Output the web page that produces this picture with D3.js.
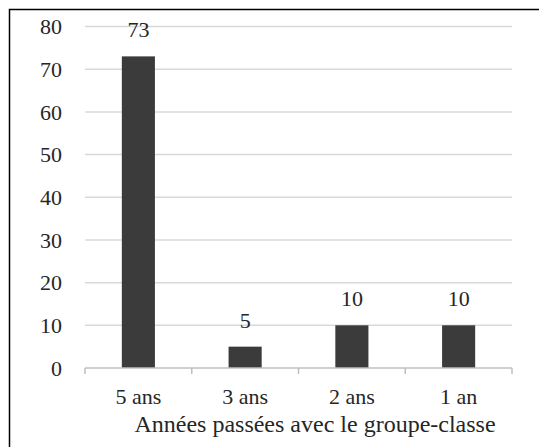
<!DOCTYPE html>
<html>
<head>
<meta charset="utf-8">
<script src="https://cdn.jsdelivr.net/npm/d3@7"></script>
<style>
  body { margin: 0; background: #fff; }
  svg { display: block; }
</style>
</head>
<body>
<div id="chart"></div>
<script>
const categories = ['5 ans', '3 ans', '2 ans', '1 an'];
const values = [73, 5, 10, 10];
const yTicks = [0, 10, 20, 30, 40, 50, 60, 70, 80];
const xTitle = 'Années passées avec le groupe-classe';

const width = 539;
const height = 447;
const margin = { top: 26.5, right: 27, bottom: 79, left: 85 };
const fontSize = 22;
const textColor = '#262626';
const serif = "'Liberation Serif', 'DejaVu Serif', 'Times New Roman', Times, serif";

const svg = d3.select('#chart')
    .append('svg')
    .attr('width', width)
    .attr('height', height);

// Chart frame (only left and top edges are visible)
svg.append('path')
    .attr('d', `M9.5,${height} V9.5 H${width}`)
    .attr('fill', 'none')
    .attr('stroke', '#000')
    .attr('stroke-width', 1.5);

const xScale = d3.scaleBand()
    .domain(categories)
    .range([margin.left, width - margin.right])
    .paddingInner(0.69)
    .paddingOuter(0.345);

const xTickScale = d3.scaleBand()
    .domain(categories)
    .range([margin.left, width - margin.right]);

const yScale = d3.scaleLinear()
    .domain([0, 80])
    .range([height - margin.bottom, margin.top]);

// Gridlines
svg.append('g')
    .selectAll('line')
    .data(yTicks.filter(d => d > 0))
    .enter()
    .append('line')
    .attr('x1', margin.left)
    .attr('x2', width - margin.right)
    .attr('y1', d => yScale(d))
    .attr('y2', d => yScale(d))
    .attr('stroke', '#d9d9d9')
    .attr('stroke-width', 1.5);

// Bars
svg.selectAll('rect.bar')
    .data(values)
    .enter()
    .append('rect')
    .attr('class', 'bar')
    .attr('x', (d, i) => xScale(categories[i]))
    .attr('y', d => yScale(d))
    .attr('width', xScale.bandwidth())
    .attr('height', d => yScale(0) - yScale(d))
    .attr('fill', '#3b3b3b');

// X axis line with ticks at band boundaries
const y0 = yScale(0);
const boundaries = categories.map(c => xTickScale(c)).concat([width - margin.right]);
svg.append('line')
    .attr('x1', margin.left)
    .attr('x2', width - margin.right)
    .attr('y1', y0)
    .attr('y2', y0)
    .attr('stroke', '#bfbfbf')
    .attr('stroke-width', 1.5);
svg.append('g')
    .selectAll('line')
    .data(boundaries)
    .enter()
    .append('line')
    .attr('x1', d => d)
    .attr('x2', d => d)
    .attr('y1', y0)
    .attr('y2', y0 + 6)
    .attr('stroke', '#bfbfbf')
    .attr('stroke-width', 1.5);

function label(sel, size) {
    return sel.attr('font-family', serif)
        .attr('font-size', size || fontSize)
        .attr('fill', textColor);
}

// Y tick labels
svg.append('g')
    .selectAll('text')
    .data(yTicks)
    .enter()
    .append('text')
    .attr('x', 62)
    .attr('y', d => yScale(d))
    .attr('dy', '0.35em')
    .attr('text-anchor', 'end')
    .call(label)
    .text(d => d);

// Value labels
svg.append('g')
    .selectAll('text')
    .data(values)
    .enter()
    .append('text')
    .attr('x', (d, i) => xScale(categories[i]) + xScale.bandwidth() / 2)
    .attr('y', d => yScale(d) - 19)
    .attr('text-anchor', 'middle')
    .call(label)
    .text(d => d);

// Category labels
svg.append('g')
    .selectAll('text')
    .data(categories)
    .enter()
    .append('text')
    .attr('x', d => xScale(d) + xScale.bandwidth() / 2)
    .attr('y', 404)
    .attr('text-anchor', 'middle')
    .call(label)
    .text(d => d);

// X axis title
svg.append('text')
    .attr('x', 315)
    .attr('y', 432)
    .attr('text-anchor', 'middle')
    .call(label, 24)
    .text(xTitle);
</script>
</body>
</html>
